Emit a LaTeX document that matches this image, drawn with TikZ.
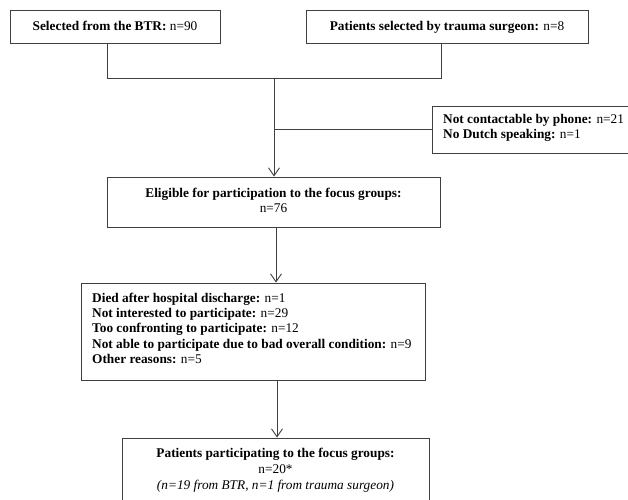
\documentclass[tikz,border=0pt]{standalone}
\usepackage{fontspec}
\setmainfont{Liberation Serif}
\usetikzlibrary{arrows.meta}
\tikzset{
  box/.style={draw=black!75, line width=0.9pt, rectangle, inner sep=0pt},
  txt/.style={inner sep=0pt, font=\fontsize{13.3}{15.2}\selectfont},
  conn/.style={draw=black!75, line width=0.9pt},
  arr/.style={conn, -{Straight Barb[length=8pt,width=11pt,line width=0.9pt]}}
}
\begin{document}
\begin{tikzpicture}[x=1pt,y=-1pt]
\clip (0,0) rectangle (628,499);
\fill[white] (0,0) rectangle (628,499);
% boxes
\node[box, minimum width=210pt, minimum height=33pt] (b1) at (115,26.5) {};
\node[box, minimum width=282pt, minimum height=33pt] (b2) at (447,26.5) {};
\node[box, minimum width=208pt, minimum height=47pt] (side) at (536,129.5) {};
\node[box, minimum width=333pt, minimum height=50pt] (elig) at (273.5,202) {};
\node[box, minimum width=344pt, minimum height=97pt] (reas) at (253,331.5) {};
\node[box, minimum width=307pt, minimum height=72pt] (part) at (275.5,474) {};
% texts
\node[txt, anchor=base] (t1) at (115,30) {\textbf{Selected from the BTR:} n=90};
\node[txt, anchor=base] (t2) at (447,30) {\textbf{Patients selected by trauma surgeon:} n=8};
\node[txt, anchor=base west] (ts) at (443,123.5) {\parbox[t]{200pt}{\raggedright
  \textbf{Not contactable by phone:} n=21\\
  \textbf{No Dutch speaking:} n=1}};
\node[txt, anchor=base] (te) at (273.5,197.5) {\parbox[t]{320pt}{\centering
  \textbf{Eligible for participation to the focus groups:}\\
  n=76}};
\node[txt, anchor=base west] (tr) at (92,302.5) {\parbox[t]{330pt}{\raggedright
  \textbf{Died after hospital discharge:} n=1\\
  \textbf{Not interested to participate:} n=29\\
  \textbf{Too confronting to participate:} n=12\\
  \textbf{Not able to participate due to bad overall condition:} n=9\\
  \textbf{Other reasons:} n=5}};
\node[txt, anchor=base] (tp) at (275.5,457.5) {\parbox[t]{300pt}{\centering
  \textbf{Patients participating to the focus groups:}\\[0.6pt]
  n=20*\\[1.2pt]
  \textit{(n=19 from BTR, n=1 from trauma surgeon)}}};
% junction coordinates
\coordinate (j1) at (107,78);
\coordinate (j2) at (441,78);
\coordinate (jc) at (274,78);
\coordinate (js) at (274,129);
\coordinate (a2) at (276,0);
\coordinate (a3) at (277,0);
% connectors
\draw[conn] (b1.south -| j1) -- (j1) -- (j2) -- (b2.south -| j2);
\draw[arr] (jc) -- (jc |- elig.north);
\draw[conn] (js) -- (js -| side.west);
\draw[arr] (elig.south -| a2) -- (reas.north -| a2);
\draw[arr] (reas.south -| a3) -- (part.north -| a3);
\end{tikzpicture}
\end{document}
